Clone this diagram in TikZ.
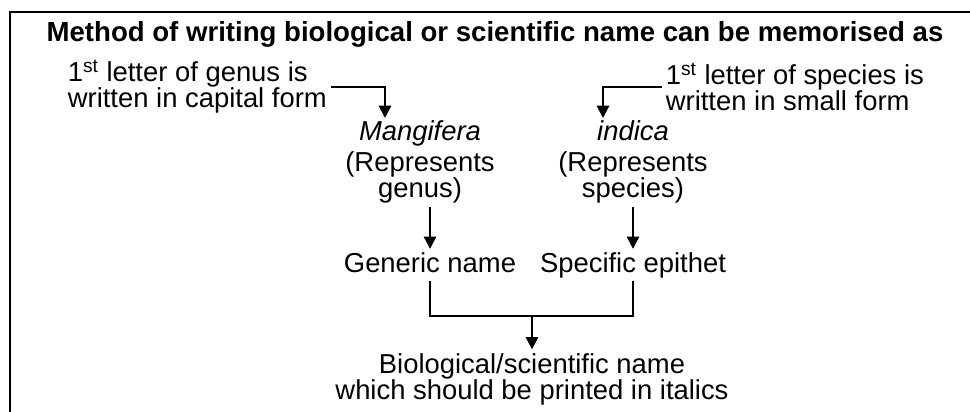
\documentclass[tikz,border=0pt]{standalone}
\usepackage{fontspec}
\setmainfont{Liberation Sans}
\usetikzlibrary{arrows.meta, positioning, calc}

\begin{document}
\begin{tikzpicture}[x=0.02cm, y=-0.02cm,
    txt/.style={font=\fontsize{15.6}{14.8}\selectfont, inner sep=2pt, align=center},
    one/.style={txt, text height=11pt, text depth=3pt},
    arr/.style={-{Triangle[length=7pt,width=7pt]}, line width=1.2pt},
    link/.style={line width=1.2pt}]
    \useasboundingbox (0,0) rectangle (970,412);
    \draw[line width=1.5pt] (10,420) -- (10,12) -- (980,12);
    \node[txt, font=\fontsize{15.7}{16}\selectfont\bfseries] (title) at (495,34)
        {Method of writing biological or scientific name can be memorised as};
    \node[txt, align=left, anchor=west] (genusnote) at (64,87)
        {1\textsuperscript{st} letter of genus is\\written in capital form};
    \node[txt, align=left, anchor=west] (specnote) at (662,87)
        {1\textsuperscript{st} letter of species is\\written in small form};
    \node[one, font=\fontsize{15.6}{14.8}\selectfont\itshape] (mang) at (420,133) {Mangifera};
    \node[txt] (mangrep) at (420,177) {(Represents\\genus)};
    \node[one, font=\fontsize{15.6}{14.8}\selectfont\itshape] (indica) at (633,133) {indica};
    \node[txt] (indrep) at (633,177) {(Represents\\species)};
    \node[one] (gen) at (430,265) {Generic name};
    \node[one] (spec) at (633,265) {Specific epithet};
    \node[txt] (bio) at (532,379) {Biological/scientific name\\which should be printed in italics};
    \coordinate (gtip) at (385,118);
    \coordinate (stip) at (603,118);
    \coordinate (jn) at (532,316);
    \draw[arr] (genusnote.east) -| (gtip);
    \draw[arr] (specnote.west) -| (stip);
    \draw[arr] (mangrep.south -| gen.north) -- (gen.north);
    \draw[arr] (indrep.south -| spec.north) -- (spec.north);
    \draw[link] (gen.south) |- (jn) -| (spec.south);
    \draw[arr] (jn) -- (bio.north);
\end{tikzpicture}
\end{document}
